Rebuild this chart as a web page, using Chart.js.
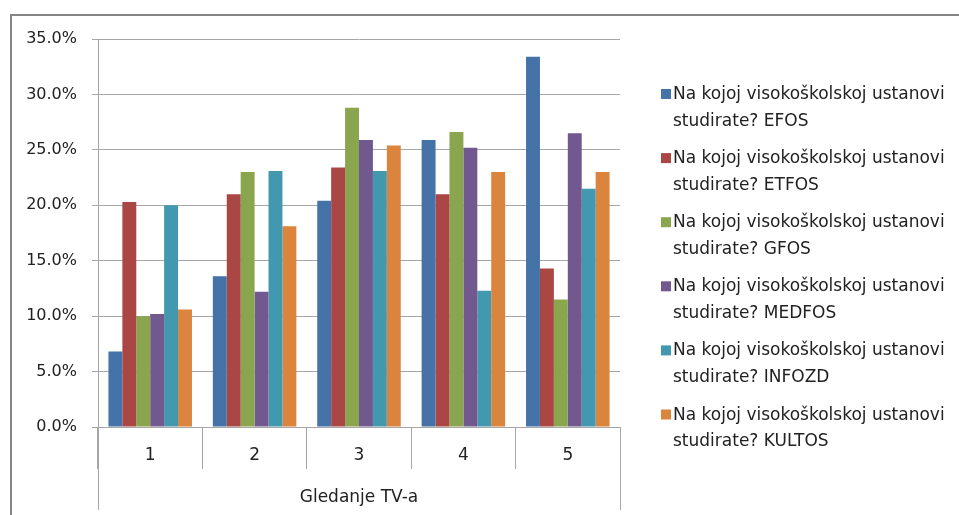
<!DOCTYPE html>
<html>
<head>
<meta charset="utf-8">
<script src="https://cdn.jsdelivr.net/npm/chart.js@4.4.0/dist/chart.umd.min.js"></script>
<style>
  html, body { margin: 0; padding: 0; background: #fff; }
  #wrap { width: 959px; height: 515px; }
</style>
</head>
<body>
<div id="wrap"><canvas id="tvChart"></canvas></div>
<script>
const categories = ['1', '2', '3', '4', '5'];
const seriesNames = [
    'Na kojoj visokoškolskoj ustanovi studirate? EFOS',
    'Na kojoj visokoškolskoj ustanovi studirate? ETFOS',
    'Na kojoj visokoškolskoj ustanovi studirate? GFOS',
    'Na kojoj visokoškolskoj ustanovi studirate? MEDFOS',
    'Na kojoj visokoškolskoj ustanovi studirate? INFOZD',
    'Na kojoj visokoškolskoj ustanovi studirate? KULTOS'
];
// values in percent
const efos   = [6.8, 13.6, 20.4, 25.9, 33.4];
const etfos  = [20.3, 21.0, 23.4, 21.0, 14.3];
const gfos   = [10.0, 23.0, 28.8, 26.6, 11.5];
const medfos = [10.2, 12.2, 25.9, 25.2, 26.5];
const infozd = [20.0, 23.1, 23.1, 12.3, 21.5];
const kultos = [10.6, 18.1, 25.4, 23.0, 23.0];
const yTicks = [0, 5, 10, 15, 20, 25, 30, 35];
const xTitle = 'Gledanje TV-a';

const colors = ['#4572A7', '#AA4643', '#89A54E', '#71588F', '#4198AF', '#DB843D'];
const seriesValues = [efos, etfos, gfos, medfos, infozd, kultos];
const fontFamily = '"DejaVu Sans", sans-serif';
const lineColor = '#a6a6a6';

const datasets = []
for (let i = 0; i < seriesNames.length; i++) {
    datasets.push({
        label: seriesNames[i],
        data: seriesValues[i],
        backgroundColor: colors[i],
        borderWidth: 0,
        categoryPercentage: 0.8,
        barPercentage: 1.0
    })
}

// outer frame + long edge lines below the category axis
const framePlugin = {
    id: 'frame',
    afterDraw(chart) {
        const ctx = chart.ctx;
        const area = chart.chartArea;
        ctx.save();
        ctx.strokeStyle = lineColor;
        ctx.lineWidth = 1;
        ctx.beginPath();
        [area.left, area.right].forEach(function(x) {
            const px = Math.round(x) + 0.5;
            ctx.moveTo(px, area.bottom);
            ctx.lineTo(px, 510);
        });
        ctx.stroke();

        ctx.strokeStyle = '#868686';
        ctx.lineWidth = 2;
        ctx.beginPath();
        ctx.moveTo(11, 515);
        ctx.lineTo(11, 15);
        ctx.lineTo(959, 15);
        ctx.stroke();
        ctx.restore();
    }
};

// two-line legend on the right, Excel style
const legendPlugin = {
    id: 'sideLegend',
    afterDraw(chart) {
        const ctx = chart.ctx;
        const textX = 673;
        const maxW = 959 - textX - 2;
        ctx.save();
        ctx.font = '17px ' + fontFamily;
        ctx.fillStyle = '#222';
        ctx.textBaseline = 'alphabetic';
        chart.data.datasets.forEach(function(ds, i) {
            const baseY = 99 + i * 64.1;
            ctx.fillStyle = ds.backgroundColor;
            ctx.fillRect(661, baseY - 10, 10, 10);

            // word wrap
            const words = ds.label.split(' ');
            const lines = [];
            let line = '';
            words.forEach(function(w) {
                const test = line ? line + ' ' + w : w;
                if (ctx.measureText(test).width > maxW && line) {
                    lines.push(line);
                    line = w;
                } else {
                    line = test;
                }
            });
            lines.push(line);

            ctx.fillStyle = '#222';
            for (let j = 0; j < lines.length; j++) {
                ctx.fillText(lines[j], textX, baseY + j * 26.5);
            }
        });
        ctx.restore();
    }
};

const ctx = document.getElementById('tvChart');
new Chart(ctx, {
    type: 'bar',
    data: {
        labels: categories,
        datasets: datasets
    },
    options: {
        responsive: true,
        maintainAspectRatio: false,
        animation: false,
        layout: {
            padding: { left: 11, top: 39, right: 339, bottom: 0 }
        },
        scales: {
            x: {
                grid: {
                    offset: true,
                    drawOnChartArea: false,
                    drawTicks: true,
                    tickLength: 42,
                    color: lineColor
                },
                border: { display: true, color: lineColor },
                ticks: {
                    padding: -24,
                    color: '#222',
                    font: { family: fontFamily, size: 17 }
                },
                title: {
                    display: true,
                    text: xTitle,
                    color: '#222',
                    font: { family: fontFamily, size: 17 },
                    padding: { top: 7, bottom: 7 }
                },
                afterFit: function(scale) { scale.height = 88 }
            },
            y: {
                min: 0,
                max: 35,
                afterBuildTicks: function(scale) {
                    scale.ticks = yTicks.map(function(v) { return { value: v } })
                },
                grid: {
                    color: lineColor,
                    tickLength: 6
                },
                border: { display: true, color: lineColor },
                ticks: {
                    padding: 15,
                    color: '#222',
                    font: { family: fontFamily, size: 16 },
                    callback: function(v) { return v.toFixed(1) + '%' }
                },
                afterFit: function(scale) { scale.width = 87 }
            }
        },
        plugins: {
            legend: { display: false },
            tooltip: { enabled: false }
        }
    },
    plugins: [framePlugin, legendPlugin]
});
</script>
</body>
</html>
